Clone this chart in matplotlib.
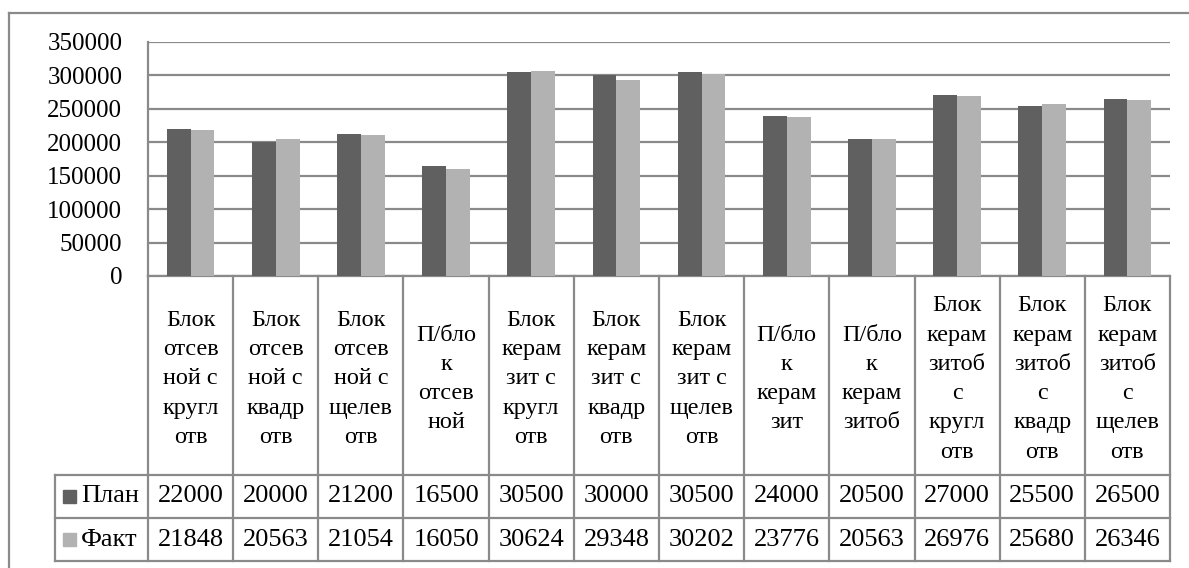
import numpy as np
import matplotlib.pyplot as plt
from matplotlib.patches import Rectangle
from matplotlib.transforms import blended_transform_factory

# Данные диаграммы
categories = [
    "Блок\nотсев\nной с\nкругл\nотв",
    "Блок\nотсев\nной с\nквадр\nотв",
    "Блок\nотсев\nной с\nщелев\nотв",
    "П/бло\nк\nотсев\nной",
    "Блок\nкерам\nзит с\nкругл\nотв",
    "Блок\nкерам\nзит с\nквадр\nотв",
    "Блок\nкерам\nзит с\nщелев\nотв",
    "П/бло\nк\nкерам\nзит",
    "П/бло\nк\nкерам\nзитоб",
    "Блок\nкерам\nзитоб\nс\nкругл\nотв",
    "Блок\nкерам\nзитоб\nс\nквадр\nотв",
    "Блок\nкерам\nзитоб\nс\nщелев\nотв",
]
plan = [22000, 20000, 21200, 16500, 30500, 30000, 30500, 24000, 20500, 27000, 25500, 26500]
fact = [21848, 20563, 21054, 16050, 30624, 29348, 30202, 23776, 20563, 26976, 25680, 26346]
series_names = ["План", "Факт"]
colors = ["#606060", "#b2b2b2"]

# в таблице числа обрезаны на одну цифру, столбцы рисуем в полном масштабе
scale = 10
yticks = [0, 50000, 100000, 150000, 200000, 250000, 300000, 350000]

FONT = 'Liberation Serif'
plt.rcParams['font.family'] = 'serif'
plt.rcParams['font.serif'] = [FONT, 'DejaVu Serif']
FS = 18
FS_CAT = 17.5
GRID = "#8a8a8a"

W, H = 1189, 568
fig = plt.figure(figsize=(W / 100, H / 100), dpi=100)

def fx(px):
    return px / W

def fy(py):
    return 1 - py / H

left, right, top, bottom = 148, 1170, 42, 276
ax = fig.add_axes([fx(left), fy(bottom), fx(right) - fx(left), fy(top) - fy(bottom)])

n = len(categories)
x = np.arange(n)
bw = 0.28
ax.bar(x - bw / 2, np.array(plan) * scale, bw, color=colors[0], zorder=3)
ax.bar(x + bw / 2, np.array(fact) * scale, bw, color=colors[1], zorder=3)

ax.set_xlim(-0.5, n - 0.5)
ax.set_ylim(0, 350000)
ax.set_yticks(yticks)
ax.set_yticklabels([str(v) for v in yticks], fontsize=FS, family=FONT)
ax.set_xticks([])
ax.yaxis.grid(True, color=GRID, linewidth=1.6, zorder=0)
ax.tick_params(axis='y', length=0, pad=18.5)
for s in ["top", "right"]:
    ax.spines[s].set_visible(False)
for s in ["left", "bottom"]:
    ax.spines[s].set_color(GRID)
    ax.spines[s].set_linewidth(1.6)

# Таблица данных под диаграммой
tr = blended_transform_factory(ax.transData, ax.transAxes)
h_ax = bottom - top
def ay(py):
    return (bottom - py) / h_ax

row_plan, row_fact, row_end = 475, 518, 561
lkw = dict(color=GRID, linewidth=1.6, clip_on=False, transform=tr)
for b in np.arange(-0.5, n, 1.0):
    ax.plot([b, b], [0, ay(row_end)], **lkw)

# левый столбец легенды в координатах данных
col_w = (right - left) / n
leg_left = -0.5 - (left - 55) / col_w
for yy in [row_plan, row_fact, row_end]:
    ax.plot([leg_left, n - 0.5], [ay(yy), ay(yy)], **lkw)
ax.plot([leg_left, leg_left], [ay(row_plan), ay(row_end)], **lkw)

for i, lab in enumerate(categories):
    ax.text(x[i], ay(379), lab, transform=tr, ha='center', va='center',
            fontsize=FS_CAT, linespacing=1.52, clip_on=False, family=FONT)

for vals, name, col, yy in zip([plan, fact], series_names, colors, [row_plan, row_fact]):
    yc = ay(yy + 21.5)
    for i, v in enumerate(vals):
        ax.text(x[i], yc, str(v), transform=tr, ha='center', va='center', fontsize=FS + 1,
                clip_on=False, family=FONT)
    # ключ легенды
    ax.add_patch(Rectangle((leg_left + 8 / col_w, ay(yy + 28)), 13 / col_w, 13 / h_ax,
                           transform=tr, color=col, clip_on=False))
    ax.text(leg_left + 26 / col_w, yc, name, transform=tr, ha='left', va='center', fontsize=FS + 1,
            clip_on=False, family=FONT)

# внешняя рамка
fig.add_artist(plt.Line2D([fx(9), fx(9)], [fy(13), 0], color=GRID, linewidth=1.6))
fig.add_artist(plt.Line2D([fx(9), 1], [fy(13), fy(13)], color=GRID, linewidth=1.6))

fig.savefig("out.png", dpi=100)
